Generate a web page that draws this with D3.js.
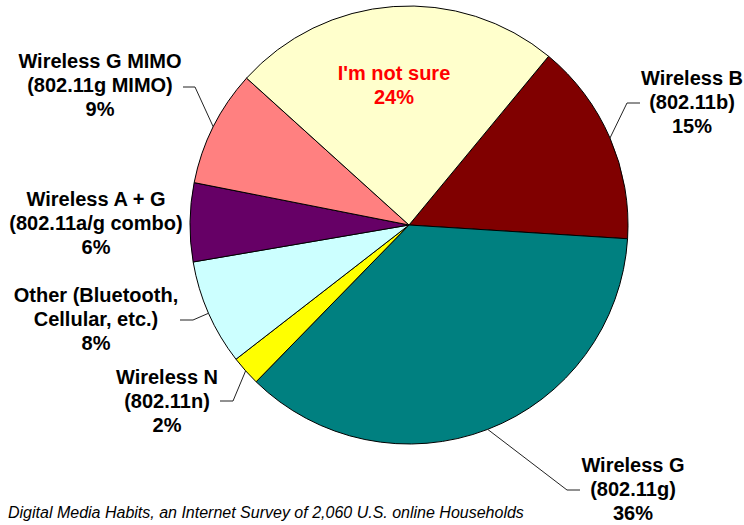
<!DOCTYPE html>
<html lang="en">
<head>
    <meta charset="UTF-8">
    <title>Wireless types</title>
    <script src="https://cdn.jsdelivr.net/npm/d3@7"></script>
    <style>
        body { margin: 0; background: #fff; }
        .lbl { font-family: Arial, "Liberation Sans", sans-serif; font-weight: bold; font-size: 20px; }
        .foot { font-family: Arial, "Liberation Sans", sans-serif; font-style: italic; font-size: 16px; }
    </style>
</head>
<body>
<div id="chart"></div>
<script>
    // data, clockwise starting at Wireless B
    const categories = ["Wireless B", "Wireless G", "Wireless N", "Other", "Wireless A + G", "Wireless G MIMO", "I'm not sure"]
    const labelLines = [
        ["Wireless B", "(802.11b)"],
        ["Wireless G", "(802.11g)"],
        ["Wireless N", "(802.11n)"],
        ["Other (Bluetooth,", "Cellular, etc.)"],
        ["Wireless A + G", "(802.11a/g combo)"],
        ["Wireless G MIMO", "(802.11g MIMO)"],
        ["I'm not sure"]
    ]
    // shares (labels show them rounded)
    const values = [15.0, 36.3, 2.2, 7.8, 5.8, 8.6, 24.3]
    const colors = ["#800000", "#008080", "#ffff00", "#ccffff", "#660066", "#ff8080", "#ffffcc"]
    const footnote = "Digital Media Habits, an Internet Survey of 2,060 U.S. online Households"

    // label placement: x center, first baseline, leader elbow + end (null = no leader)
    const layout = [
        {x: 692, y: 85, elbow: [627, 103], end: [640, 103]},
        {x: 633, y: 472, elbow: [567, 490], end: [580, 490]},
        {x: 167, y: 384, elbow: [233, 401], end: [220, 401]},
        {x: 96, y: 302, elbow: [193, 320], end: [180, 320]},
        {x: 96, y: 206, elbow: null},
        {x: 100, y: 68, elbow: [195, 87], end: [183, 87]},
        {x: 394, y: 80, elbow: null, color: "#ff0000"}
    ]

    const width = 744, height = 525
    const cx = 409, cy = 225, r = 219
    const startDeg = 39.6

    const svg = d3.select("#chart").append("svg")
        .attr("width", width)
        .attr("height", height)

    const pie = d3.pie().sort(null)
        .startAngle(startDeg * Math.PI / 180)
        .endAngle(startDeg * Math.PI / 180 + 2 * Math.PI)
    const arcs = pie(values)
    const arc = d3.arc().innerRadius(0).outerRadius(r)

    const g = svg.append("g").attr("transform", `translate(${cx},${cy})`)
    g.selectAll("path")
        .data(arcs)
        .enter()
        .append("path")
        .attr("d", arc)
        .attr("fill", (d, i) => colors[i])
        .attr("stroke", "#000")
        .attr("stroke-width", 1)

    // leader lines
    arcs.forEach((d, i) => {
        const L = layout[i]
        if (!L.elbow) return
        const a = (d.startAngle + d.endAngle) / 2
        const px = cx + r * Math.sin(a), py = cy - r * Math.cos(a)
        svg.append("polyline")
            .attr("points", [[px, py], L.elbow, L.end].map(p => p.join(",")).join(" "))
            .attr("fill", "none")
            .attr("stroke", "#222")
            .attr("stroke-width", 1)
    })

    // labels
    labelLines.forEach((lines, i) => {
        const L = layout[i]
        const t = svg.append("text")
            .attr("class", "lbl")
            .attr("text-anchor", "middle")
            .attr("fill", L.color || "#000")
        lines.concat([Math.round(values[i]) + "%"]).forEach((s, k) => {
            t.append("tspan").attr("x", L.x).attr("y", L.y + k * 24).text(s)
        })
    })

    svg.append("text")
        .attr("class", "foot")
        .attr("x", 8)
        .attr("y", 518)
        .text(footnote)
</script>
</body>
</html>
